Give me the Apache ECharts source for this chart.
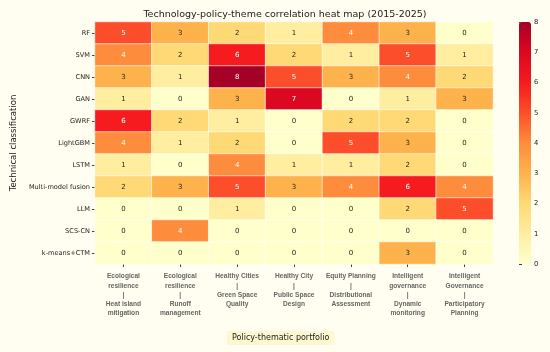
<!DOCTYPE html>
<html><head><meta charset="utf-8">
<script src="https://cdn.jsdelivr.net/npm/echarts@6/dist/echarts.min.js"></script>
<style>html,body{margin:0;padding:0;background:#fffef0}#c{width:550px;height:352px}</style>
</head><body><div id="c"></div>
<script>
const techs = ["RF","SVM","CNN","GAN","GWRF","LightGBM","LSTM","Multi-model fusion","LLM","SCS-CN","k-means+CTM"];
const themes = [
 "Ecological\nresilience\n|\nHeat island\nmitigation",
 "Ecological\nresilience\n|\nRunoff\nmanagement",
 "Healthy Cities\n|\nGreen Space\nQuality",
 "Healthy City\n|\nPublic Space\nDesign",
 "Equity Planning\n|\nDistributional\nAssessment",
 "Intelligent\ngovernance\n|\nDynamic\nmonitoring",
 "Intelligent\nGovernance\n|\nParticipatory\nPlanning"
];
const values = [
 [5,3,2,1,4,3,0],
 [4,2,6,2,1,5,1],
 [3,1,8,5,3,4,2],
 [1,0,3,7,0,1,3],
 [6,2,1,0,2,2,0],
 [4,1,2,0,5,3,0],
 [1,0,4,1,1,2,0],
 [2,3,5,3,4,6,4],
 [0,0,1,0,0,2,5],
 [0,4,0,0,0,0,0],
 [0,0,0,0,0,3,0]
];
const cbTicks = [0,1,2,3,4,5,6,7,8];
const palette = ['#ffffcc','#ffeda0','#fed976','#feb24c','#fd8d3c','#fc4e2a','#f51b1e','#dc0822','#a50026'];

const data = [];
values.forEach((row,r)=>row.forEach((v,c)=>{
  data.push({value:[c,r,v],label:{color: v>=4 ? '#ffffff' : '#262626'}});
}));

const chart = echarts.init(document.getElementById('c'));
chart.setOption({
  backgroundColor:'#fffef0',
  animation:false,
  title:{text:'Technology-policy-theme correlation heat map (2015-2025)',left:280,textAlign:'center',top:5,
    textStyle:{fontFamily:'DejaVu Sans',fontSize:9.5,fontWeight:'normal',color:'#222'}},
  grid:[
    {left:95,width:398,top:22,height:242},
    {left:519,width:12,top:22,height:242}
  ],
  xAxis:[
    {type:'category',data:themes,gridIndex:0,position:'bottom',
     axisLine:{show:false},axisTick:{show:true,alignWithLabel:true,length:3,lineStyle:{color:'#444'}},
     splitLine:{show:false},
     axisLabel:{interval:0,margin:8,fontFamily:'Liberation Sans',fontWeight:'bold',fontSize:6.6,lineHeight:9.2,color:'#666'}},
    {type:'value',gridIndex:1,show:false,min:0,max:1}
  ],
  yAxis:[
    {type:'category',data:techs,gridIndex:0,inverse:true,
     axisLine:{show:false},axisTick:{show:true,alignWithLabel:true,length:3,lineStyle:{color:'#444'}},
     axisLabel:{fontFamily:'DejaVu Sans',fontSize:6.6,color:'#222',margin:5},
     name:'Technical classification',nameLocation:'middle',nameGap:70,
     nameTextStyle:{fontFamily:'DejaVu Sans',fontSize:8.5,color:'#222'}},
    {type:'value',gridIndex:1,position:'right',min:0,max:8,interval:1,
     axisLine:{show:false},axisTick:{show:true,length:3,lineStyle:{color:'#444'}},
     splitLine:{show:false},
     axisLabel:{fontFamily:'DejaVu Sans',fontSize:6.8,color:'#222',margin:3,formatter:v=>cbTicks.includes(v)?String(v):''}}
  ],
  visualMap:{type:'continuous',min:0,max:8,seriesIndex:0,calculable:false,
    itemWidth:12,itemHeight:242,left:519,top:22,padding:0,text:null,showLabel:false,
    inRange:{color:palette}},
  series:[{
    type:'heatmap',xAxisIndex:0,yAxisIndex:0,data:data,
    itemStyle:{borderColor:'#ffffff',borderWidth:0.6},
    label:{show:true,fontFamily:'DejaVu Sans',fontSize:7,formatter:p=>String(p.value[2])},
    emphasis:{disabled:true}
  }],
  graphic:[{type:'text',left:227,top:331,
    style:{text:'Policy-thematic portfolio',fontFamily:'DejaVu Sans',fontSize:8,fill:'#222',
      backgroundColor:'#fdf8cf',padding:[3,5,3,5]}}]
});
</script></body></html>
